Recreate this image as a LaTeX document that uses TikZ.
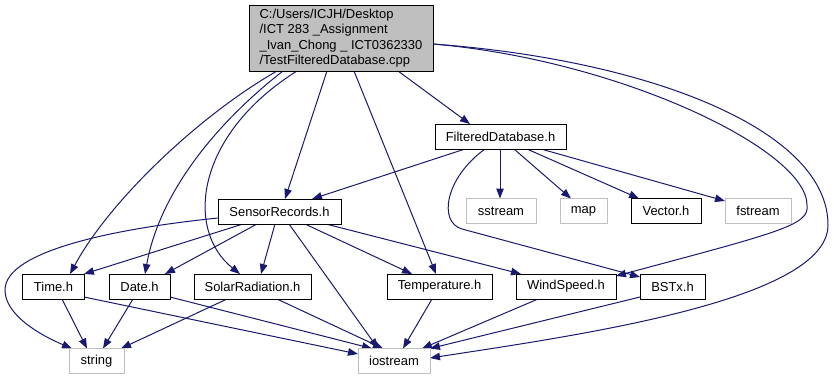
\documentclass[tikz,border=0pt]{standalone}
\usepackage{fontspec}
\setmainfont{Liberation Sans}
\usetikzlibrary{arrows.meta,backgrounds}
\definecolor{edgeblue}{HTML}{191970}
\definecolor{greyline}{HTML}{BFBFBF}
\begin{document}
\begin{tikzpicture}[x=1bp,y=-1bp,
  every node/.style={font=\fontsize{13}{15.5}\selectfont, inner sep=0pt, outer sep=0pt, line width=1bp},
  hdr/.style={draw=black, fill=white, minimum height=25bp},
  sys/.style={draw=greyline, fill=white, minimum height=25bp},
  dep/.style={draw=edgeblue, line width=1bp, -{Triangle[length=10bp,width=7.5bp]}}
]
\useasboundingbox (0,0) rectangle (834,380);

% source file
\node[draw=black, fill=greyline, minimum width=184bp, minimum height=66bp, align=left] (main) at (341,38)
  {C:/Users/ICJH/Desktop\\/ICT 283 \_Assignment\\\_Ivan\_Chong \_ ICT0362330\\/TestFilteredDatabase.cpp};

% project headers
\node[hdr, minimum width=131bp] (fdb)    at (500.5,136.5) {FilteredDatabase.h};
\node[hdr, minimum width=123bp] (sensor) at (279.5,211.5) {SensorRecords.h};
\node[hdr, minimum width=70bp]  (vector) at (666,211)     {Vector.h};
\node[hdr, minimum width=61bp]  (time)   at (53.5,286.5)  {Time.h};
\node[hdr, minimum width=61bp]  (date)   at (139.5,286.5) {Date.h};
\node[hdr, minimum width=117bp] (solar)  at (252.5,286.5) {SolarRadiation.h};
\node[hdr, minimum width=105bp] (temp)   at (439.5,286.5) {Temperature.h};
\node[hdr, minimum width=100bp] (wind)   at (566,286.5)   {WindSpeed.h};
\node[hdr, minimum width=65bp]  (bstx)   at (672.5,286.5) {BSTx.h};

% standard library headers
\node[sys, minimum width=70bp] (sstream)  at (501,211)   {sstream};
\node[sys, minimum width=47bp] (map)      at (583.5,211) {map};
\node[sys, minimum width=66bp] (fstream)  at (758,211)   {fstream};
\node[sys, minimum width=55bp] (string)   at (96.5,361)  {string};
\node[sys, minimum width=72bp] (iostream) at (394,361)   {iostream};

\begin{pgfonlayer}{background}
% includes of the source file
\draw[dep] (main.south-|277,0) .. controls (200,115) and (110,200) .. (time.north-|70,0);
\draw[dep] (main.south-|283,0) .. controls (220,120) and (160,190) .. (date.north-|145,0);
\draw[dep] (main.south-|297,0) .. controls (195,135) and (185,230) .. (solar.north-|240,0);
\draw[dep] (main.south-|327,0) -- (sensor.north-|285,0);
\draw[dep] (main.south-|354,0) -- (temp.north-|436,0);
\draw[dep] (main.south-|398,0) -- (fdb.north-|470,0);
\draw[dep] (main.east|-0,44) .. controls (620,60) and (807,150) .. (807,205)
  .. controls (810,225) and (780,232) .. (wind.east|-0,276);
\draw[dep] (main.east|-0,44) .. controls (650,60) and (828,130) .. (828,225)
  .. controls (828,300) and (580,335) .. (iostream.east|-0,358);

% FilteredDatabase.h
\draw[dep] (fdb.south-|465,0) -- (sensor.north-|312,0);
\draw[dep] (fdb.south-|500,0) -- (sstream.north-|500,0);
\draw[dep] (fdb.south-|514,0) -- (map.north-|571,0);
\draw[dep] (fdb.south-|527,0) -- (vector.north-|639,0);
\draw[dep] (fdb.south-|541,0) -- (fstream.west|-0,201);
\draw[dep] (fdb.south-|485,0) .. controls (445,178) and (438,222) .. (462,229) -- (bstx.west|-0,277);

% SensorRecords.h
\draw[dep] (sensor.west|-0,218) .. controls (120,228) and (5,250) .. (5,290)
  .. controls (5,315) and (40,335) .. (string.north-|72,0);
\draw[dep] (sensor.south-|243,0) -- (time.north east);
\draw[dep] (sensor.south-|257,0) -- (date.north-|165,0);
\draw[dep] (sensor.south-|275,0) -- (solar.north-|261,0);
\draw[dep] (sensor.south-|289,0) -- (iostream.north-|378,0);
\draw[dep] (sensor.south-|305,0) -- (temp.north-|412,0);
\draw[dep] (sensor.south-|326,0) -- (wind.north-|521,0);

% leaf headers
\draw[dep] (time.south-|62,0) -- (string.north-|87,0);
\draw[dep] (time.east|-0,297) -- (iostream.west|-0,354);
\draw[dep] (date.south-|133,0) -- (string.north-|103,0);
\draw[dep] (date.east|-0,297) -- (iostream.north-|372,0);
\draw[dep] (solar.south-|227,0) -- (string.north-|121,0);
\draw[dep] (solar.south-|277,0) -- (iostream.north-|383,0);
\draw[dep] (temp.south-|432,0) -- (iostream.north-|403,0);
\draw[dep] (wind.south-|538,0) -- (iostream.north-|422,0);
\draw[dep] (bstx.west|-0,297) -- (iostream.north east);
\end{pgfonlayer}
\end{tikzpicture}
\end{document}
